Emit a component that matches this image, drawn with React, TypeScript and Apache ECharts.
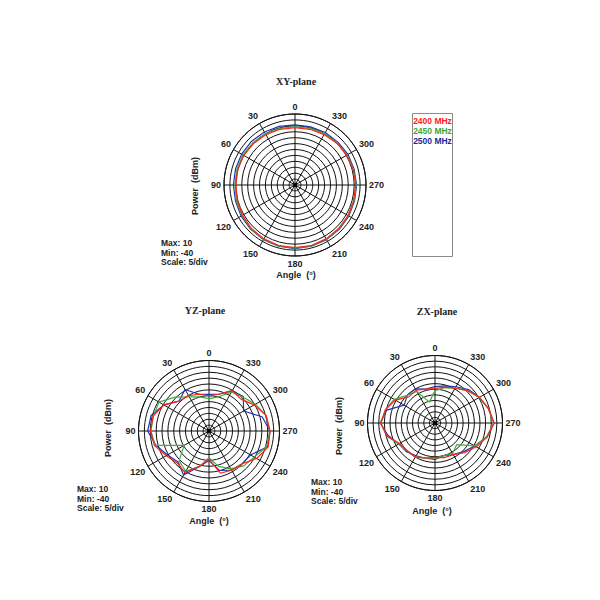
import React, { useEffect, useRef } from "react";
import * as echarts from "echarts";

const ANGLES = [0, 15, 30, 45, 60, 75, 90, 105, 120, 135, 150, 165, 180, 195, 210, 225, 240, 255, 270, 285, 300, 315, 330, 345];
const FREQS = ["2400 MHz", "2450 MHz", "2500 MHz"];
const LINE_COLORS = ["#ff2418", "#3fae3f", "#1f34b4"];
const LEGEND_COLORS = ["#ff1a1a", "#3aa83a", "#1a2a98"];
const PLANES = ["XY-plane", "YZ-plane", "ZX-plane"];
const INFO = ["Max: 10", "Min: -40", "Scale: 5/div"];

// dBm values at ANGLES, per plane, per frequency
const xy2400 = [0.3, 0.6, 1.0, 1.3, 1.7, 1.7, 1.7, 2.0, 2.7, 3.4, 3.8, 4.1, 4.1, 4.1, 3.8, 3.4, 3.1, 2.7, 2.7, 2.4, 2.0, 1.7, 1.0, 0.6];
const xy2450 = [1.0, 1.3, 1.7, 2.0, 2.4, 2.4, 2.4, 2.7, 3.1, 3.8, 4.1, 4.4, 4.4, 4.4, 4.1, 3.8, 3.4, 3.1, 3.1, 2.7, 2.4, 2.0, 1.7, 1.3];
const xy2500 = [2.4, 2.7, 3.1, 3.4, 3.4, 3.4, 3.4, 3.4, 3.8, 4.1, 4.4, 4.6, 4.8, 4.6, 4.4, 4.1, 3.8, 3.4, 3.4, 3.1, 3.1, 2.7, 2.7, 2.4];

const yz2400 = [-15, -13, -11, -10, -3, 1, 1.5, 0, -5, -8, -6, -14, -20, -9, -8, -7, -1, 3.5, 3.3, 2, -3, -8, -7, -13];
const yz2450 = [-17, -15, -12, -6, 1, 0.8, 1.2, -0.5, -19.6, -10, -7, -14, -21, -14, -9, -5, -3, 2.5, 3, 2, -2, -6, -8, -15];
const yz2500 = [-14, -13, -6, -10, -3, 2.5, 3.5, -1, -6, -9, -4, -14, -19, -11, -8, -7, -6, 3, 3.3, -1, -11.7, -5.5, -7, -13];

const zx2400 = [-14.5, -14, -12, -12.6, -6, -2, 0.3, -3, -9.7, -11, -11, -13, -14.5, -13.5, -13, -9, -4.7, 0, 3.8, 1, -2.1, -6, -10.3, -12.5];
const zx2450 = [-16, -24, -13, -11, -5, -2, 0, -3, -9, -11, -11, -13, -14, -15, -14, -17.3, -6, -0.5, 3.5, 1, -2, -6, -10, -13];
const zx2500 = [-13, -14, -10.8, -11, -13.6, -3, 0.5, -4, -9, -10, -12, -13, -13, -15, -13, -10, -6, 0, 3.8, 1, -2, -5, -9, -11.5];

const PLANE_DATA = [
  [xy2400, xy2450, xy2500],
  [yz2400, yz2450, yz2500],
  [zx2400, zx2450, zx2500],
];

const R_MIN = -40;
const R_MAX = 10;
const RINGS = 12;

// layout
const CENTERS: [number, number][] = [[295, 185], [209, 431], [435, 423]];
const RADII = [71, 70.5, 67.5];
const TITLE_POS: [number, number][] = [[296, 81], [205, 310], [437, 311]];
const POWER_POS: [number, number][] = [[195, 186], [108, 428], [339, 426]];
const ANGLE_POS: [number, number][] = [[296, 275], [209, 521], [432, 511]];
const INFO_POS: [number, number][] = [[161, 243], [77, 489], [311, 482]];

export default function App() {
  const ref = useRef<HTMLDivElement>(null);
  useEffect(() => {
    document.body.style.margin = "0";
    const chart = echarts.init(ref.current!, null, { renderer: "svg" });
    const labelFont = "Liberation Sans";
    const polar = CENTERS.map((c, i) => ({ center: c, radius: RADII[i] }));
    const angleAxis = CENTERS.map((_, i) => ({
      polarIndex: i,
      type: "value",
      min: 0,
      max: 360,
      interval: 30,
      startAngle: 90,
      clockwise: false,
      axisLine: { show: true, lineStyle: { color: "#111", width: 1 } },
      axisTick: { show: false },
      splitLine: { show: true, lineStyle: { color: "#111", width: 1 } },
      axisLabel: {
        show: true,
        margin: 3,
        fontSize: 9,
        fontWeight: "bold",
        fontFamily: labelFont,
        color: "#222",
        formatter: (v: number) => (v === 360 ? "" : String(v)),
      },
    }));
    const radiusAxis = CENTERS.map((_, i) => ({
      polarIndex: i,
      type: "value",
      min: R_MIN,
      max: R_MAX,
      interval: (R_MAX - R_MIN) / RINGS,
      axisLine: { show: false },
      axisTick: { show: false },
      axisLabel: { show: false },
      splitLine: { show: true, lineStyle: { color: "#111", width: 1 } },
    }));
    const series: any[] = [];
    PLANE_DATA.forEach((freqs, p) => {
      freqs.forEach((vals, f) => {
        const d = ANGLES.map((a, k) => [vals[k], a]);
        d.push([vals[0], 360]);
        series.push({
          type: "line",
          name: FREQS[f] + " " + PLANES[p],
          coordinateSystem: "polar",
          polarIndex: p,
          data: d,
          symbol: "none",
          lineStyle: { color: LINE_COLORS[f], width: 1.2 },
          z: 3 + (2 - f),
        });
      });
      series.push({
        type: "scatter",
        coordinateSystem: "polar",
        polarIndex: p,
        data: [[R_MIN, 0]],
        symbol: "rect",
        symbolSize: 4,
        itemStyle: { color: "#000" },
        z: 5,
      });
    });

    const txt = (x: number, y: number, text: string, extra: any = {}, rot = 0) => ({
      type: "text",
      x,
      y,
      rotation: rot,
      style: {
        text,
        fontSize: 9,
        fontWeight: "bold",
        fontFamily: labelFont,
        fill: "#222",
        align: "center",
        verticalAlign: "middle",
        textAlign: "center",
        textVerticalAlign: "middle",
        ...extra,
      },
    });

    const graphic: any[] = [];
    PLANES.forEach((t, i) => {
      graphic.push(txt(TITLE_POS[i][0], TITLE_POS[i][1], t, { fontSize: 10, fontFamily: "Liberation Serif" }));
      graphic.push(txt(POWER_POS[i][0], POWER_POS[i][1], "Power  (dBm)", {}, Math.PI / 2));
      graphic.push(txt(ANGLE_POS[i][0], ANGLE_POS[i][1], "Angle  (°)"));
      INFO.forEach((s, k) => {
        graphic.push(
          txt(INFO_POS[i][0], INFO_POS[i][1] + k * 9.7, s, {
            fontSize: 8.5,
            align: "left",
            textAlign: "left",
          })
        );
      });
    });
    graphic.push({
      type: "rect",
      shape: { x: 412.5, y: 113.5, width: 40, height: 143 },
      style: { fill: "#fff", stroke: "#8a8a8a", lineWidth: 1 },
    });
    FREQS.forEach((f, k) => {
      graphic.push(txt(432.5, 120.5 + k * 10, f, { fontSize: 8.5, fill: LEGEND_COLORS[k] }));
    });

    chart.setOption({
      animation: false,
      backgroundColor: "#fff",
      polar,
      angleAxis,
      radiusAxis,
      series,
      graphic,
    });
    return () => chart.dispose();
  }, []);
  return <div ref={ref} style={{ width: 600, height: 600 }} />;
}
